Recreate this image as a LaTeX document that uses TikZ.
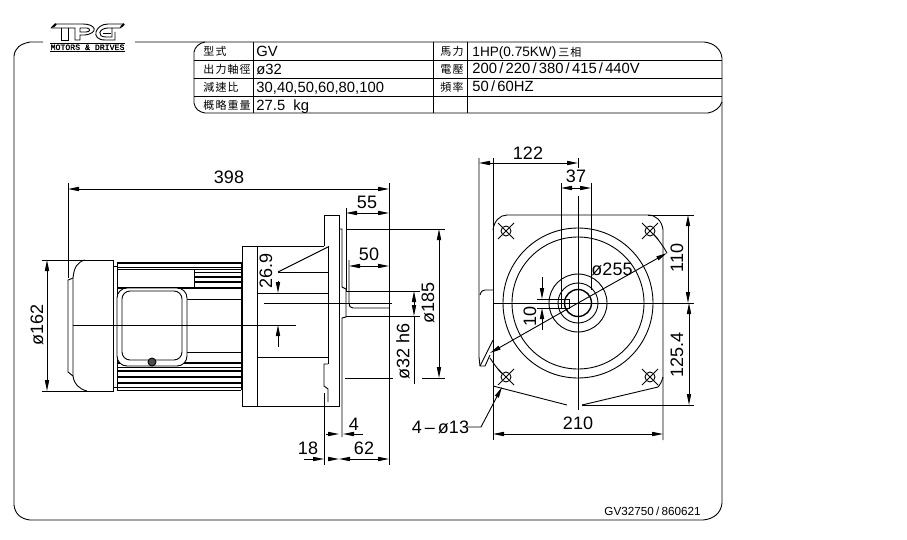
\documentclass[tikz,border=0pt]{standalone}
\usepackage{fontspec}
\setmainfont{Liberation Sans}
\newfontfamily\cjk[LetterSpace=10]{Noto Sans CJK TC}
\newfontfamily\logofont[FakeBold=1.5]{Liberation Mono}
\usetikzlibrary{arrows.meta}
\newcommand{\dslash}{\kern2.2pt/\kern2.2pt}
\tikzset{
    drawing/.style={line width=0.9pt},
    dimline/.style={line width=0.9pt, -{Stealth[inset=0pt, length=11pt, width=4.2pt]}},
    fin/.style={line width=1.8pt},
    dimtext/.style={font=\fontsize{18}{18}\selectfont, inner sep=0pt},
    celltext/.style={font=\fontsize{14.8}{15}\selectfont, inner sep=0pt, anchor=base west},
    celllabel/.style={font=\fontsize{11}{12}\selectfont\cjk, inner sep=0pt, anchor=base west}
}
\begin{document}
\begin{tikzpicture}[x=1pt, y=-1pt, drawing]
    \useasboundingbox (0, 0) rectangle (907, 540);
    % frame
    \draw (43, 42) -- (30, 42) .. controls (20, 44) and (15, 48) .. (14, 56) -- (14, 505) .. controls (15, 514) and (21, 519) .. (30, 520) -- (703, 520) .. controls (714, 519) and (721, 513) .. (722, 503) -- (722, 58) .. controls (721, 49) and (714, 43) .. (704, 42) -- (135, 42);
    % table
    \draw (205, 42) .. controls (199, 43) and (195, 47) .. (194, 52) -- (194, 103) .. controls (195, 109) and (199, 112) .. (205, 113) -- (708, 113) .. controls (714, 112) and (720, 108) .. (722, 102);
    \draw (194, 60) -- (722, 60);
    \draw (194, 78) -- (722, 78);
    \draw (194, 96) -- (722, 96);
    \foreach \tx in {253, 433, 467} {
        \draw (\tx, 42) -- (\tx, 113);
    }
    \node [celllabel] (typelabel) at (203, 56) {型式};
    \node [celllabel] (shaftlabel) at (203, 74) {出力軸徑};
    \node [celllabel] (ratiolabel) at (203, 92) {減速比};
    \node [celllabel] (weightlabel) at (203, 110) {概略重量};
    \node [celllabel] (powerlabel) at (440, 56) {馬力};
    \node [celllabel] (voltlabel) at (440, 74) {電壓};
    \node [celllabel] (freqlabel) at (440, 92) {頻率};
    \node [celltext] (typeval) at (256, 57) {GV};
    \node [celltext] (shaftval) at (256, 75) {ø32};
    \node [celltext] (ratioval) at (256, 93) {30,40,50,60,80,100};
    \node [celltext] (weightval) at (256, 111) {27.5\ \ kg};
    \node [celltext, font=\fontsize{13.6}{15}\selectfont] (powerval) at (472, 57) {1HP(0.75KW)\kern2pt{\fontsize{11}{12}\selectfont\cjk 三相}};
    \node [celltext] (voltval) at (472, 74) {200\dslash 220\dslash 380\dslash 415\dslash 440V};
    \node [celltext] (freqval) at (472, 92) {50\dslash 60HZ};
    \node [font=\fontsize{11.7}{12}\selectfont, inner sep=0pt, anchor=base east] (partno) at (701, 515) {GV32750\dslash 860621};
    % logo
    \draw [line width=2pt] (53, 27) -- (56, 24);
    \draw [line width=2pt] (121, 27) -- (124, 24);
    \draw (51, 28) -- (55, 24) -- (83, 24) .. controls (96, 24) and (99, 33) .. (85, 35) -- (80, 35) -- (80, 40) -- (75, 40) -- (75, 28) -- (51, 28);
    \draw (61, 28) -- (61, 40) -- (68, 40) -- (68, 28);
    \draw (80, 28) -- (87, 28) .. controls (91, 29) and (90, 32) .. (86, 32) -- (80, 32) -- (80, 28);
    \draw (124, 24) -- (108, 24) .. controls (95, 24) and (90, 40) .. (105, 40) -- (115, 40) -- (115, 32);
    \draw (120, 28) -- (108, 28) .. controls (99, 28) and (96, 37) .. (106, 37) -- (112, 37) -- (112, 28);
    \draw (120, 28) -- (124, 24);
    \draw (103, 33) -- (111, 33);
    \draw (50, 43) -- (125, 43);
    \draw (50, 51) -- (125, 51);
    \node [font=\fontsize{8.2}{8}\selectfont\logofont, inner sep=0pt] (logotext) at (87.5, 47.3) {MOTORS \& DRIVES};
    % motor
    \draw (68, 183) -- (68, 278);
    \draw (42, 260) -- (113, 260) -- (113, 391) -- (42, 391);
    \draw (85, 260) .. controls (77, 262) and (74, 268) .. (73, 278) -- (73, 376) .. controls (74, 384) and (79, 389) .. (87, 391);
    \draw (73, 278) .. controls (70, 279) and (69, 280) .. (68, 280) -- (68, 372) -- (73, 376);
    \draw (113, 266) -- (117, 266);
    \draw (113, 387) -- (117, 387);
    \draw (117, 262) -- (117, 390);
    \draw (241, 262) -- (241, 390);
    \draw [fin] (117, 263) -- (241, 263);
    \draw (117, 267) -- (241, 267);
    \draw (117, 269) -- (241, 269);
    \draw (194, 269) -- (194, 288);
    \draw (194, 272) -- (241, 272);
    \draw [fin] (194, 277) -- (241, 277);
    \draw [fin] (194, 282) -- (241, 282);
    \draw [line width=1.2pt] (117, 288) -- (241, 288);
    \draw (187, 299) -- (241, 299);
    \draw (187, 352) -- (241, 352);
    \draw [fin] (117, 363) -- (241, 363);
    \draw (117, 367) -- (241, 367);
    \draw [fin] (117, 371) -- (241, 371);
    \draw [fin] (117, 377) -- (241, 377);
    \draw [fin] (117, 383) -- (241, 383);
    \draw (117, 387) -- (241, 387);
    \draw (117, 390) -- (241, 390);
    \draw [fill=white, rounded corners=10pt] (117, 288) rectangle (187, 366);
    \draw [rounded corners=8pt] (122, 291) rectangle (182, 360);
    \draw [fill=black!70] (152, 362) circle [radius=4];
    % gear box
    \draw (324, 246) -- (242, 246) -- (242, 406) -- (339, 406) -- (339, 215) -- (324, 215) -- (324, 246);
    \draw (257, 246) -- (257, 406);
    \draw (328, 246) -- (328, 364);
    \draw (278, 272) -- (328, 272);
    \draw (257, 293) -- (328, 293);
    \draw (257, 357) -- (328, 357);
    \draw (278, 272) -- (328, 247);
    \draw (328, 364) -- (324, 364) -- (324, 386) -- (328, 389) -- (328, 402);
    \draw (324, 393) -- (324, 465);
    \draw (339, 229) -- (342, 229) -- (342, 287) -- (346, 289) -- (346, 317) -- (342, 318) -- (342, 437);
    % shaft
    \draw (346, 208) -- (346, 292);
    \draw (346, 291) -- (420, 291);
    \draw (346, 316) -- (420, 316);
    \draw (349, 260) -- (349, 303) .. controls (349, 306) and (350, 308) .. (353, 308) -- (389, 308);
    \draw (264, 303) -- (392, 303);
    \draw (73, 325) -- (296, 325);
    % side dims
    \draw (389, 183) -- (389, 465);
    \draw (346, 229) -- (445, 229);
    \draw (345, 378) -- (393, 378);
    \draw (422, 378) -- (445, 378);
    \draw [dimline] (208, 189) -- (68, 189);
    \draw [dimline] (208, 189) -- (389, 189);
    \node [dimtext] (lenlabel) at (229, 177) {398};
    \draw [dimline] (47, 325) -- (47, 260);
    \draw [dimline] (47, 325) -- (47, 391);
    \node [dimtext, rotate=90] (dialabel) at (37, 325) {ø162};
    \draw [dimline] (367, 213) -- (346, 213);
    \draw [dimline] (367, 213) -- (389, 213);
    \node [dimtext] (shaftlen) at (367, 202) {55};
    \draw [dimline] (369, 266) -- (349, 266);
    \draw [dimline] (369, 266) -- (389, 266);
    \node [dimtext] (keylen) at (369, 254) {50};
    \draw [dimline] (278, 281) -- (278, 293);
    \draw [dimline] (278, 347) -- (278, 325);
    \node [dimtext, rotate=90] (offset) at (266, 271) {26.9};
    \draw [dimline] (439, 300) -- (439, 229);
    \draw [dimline] (439, 300) -- (439, 378);
    \node [dimtext, rotate=90] (pcdlabel) at (428, 303) {ø185};
    \draw [dimline] (414, 303.5) -- (414, 291);
    \draw [dimline] (414, 303.5) -- (414, 316);
    \draw (414, 316) -- (414, 384);
    \node [dimtext, rotate=90] (shaftdia) at (403, 351) {ø32\ h6};
    \draw [dimline] (326, 434) -- (339, 434);
    \draw [dimline] (363, 434) -- (343, 434);
    \node [dimtext] (pilot) at (354, 424) {4};
    \draw [dimline] (304, 459) -- (324, 459);
    \draw [dimline] (331, 459) -- (339, 459);
    \draw [dimline] (364, 459) -- (339, 459);
    \draw [dimline] (364, 459) -- (389, 459);
    \node [dimtext] (flangelen) at (308, 448) {18};
    \node [dimtext] (endlen) at (364, 448) {62};
    % end view
    \draw (507, 215) -- (648, 215) .. controls (656, 215) and (662, 221) .. (663, 230) -- (663, 440);
    \draw (493, 158) -- (493, 440);
    \draw (493, 230) .. controls (494, 221) and (500, 215) .. (507, 215);
    \draw (663, 377) .. controls (662, 381) and (660, 385) .. (658, 387) -- (582, 405);
    \draw (493, 386) -- (567, 405);
    \draw (480, 295) .. controls (481, 291) and (483, 290) .. (485, 290) -- (493, 290);
    \draw (479, 158) -- (479, 357) -- (480, 366) -- (485, 366) -- (490, 355);
    \draw (480, 366) -- (493, 340);
    \draw (578, 196) -- (578, 410);
    \draw (493, 303) -- (694, 303);
    \draw (648, 215) -- (694, 215);
    \draw (582, 405) -- (694, 405);
    \foreach \cr in {75, 66, 29, 20} {
        \draw (578, 303) circle [radius=\cr];
    }
    \draw [line width=1.4pt] (578, 303) circle [radius=13.5];
    \draw (561, 299) rectangle (569, 308);
    \draw (537, 299) -- (561, 299);
    \draw (537, 308) -- (561, 308);
    \draw (561, 183) -- (561, 299);
    \draw (591, 183) -- (591, 290);
    \foreach \hx/\hy in {506/231, 650/231, 506/377, 650/377} {
        \draw (\hx, \hy) circle [radius=5];
        \draw (\hx - 8, \hy - 8) -- (\hx + 8, \hy + 8);
        \draw (\hx - 8, \hy + 8) -- (\hx + 8, \hy - 8);
    }
    \draw (667, 253) arc [start angle=-29, end angle=-42, radius=102];
    \draw (490, 358) arc [start angle=148, end angle=137, radius=102];
    \draw [dimline] (528, 163) -- (479, 163);
    \draw [dimline] (528, 163) -- (578, 163);
    \node [dimtext] (widthlabel) at (528, 153) {122};
    \draw (578, 158) -- (578, 168);
    \draw [dimline] (576, 188) -- (561, 188);
    \draw [dimline] (576, 188) -- (591, 188);
    \node [dimtext] (keywidth) at (576, 176) {37};
    \draw [dimline] (578, 303) -- (667, 253);
    \draw [dimline] (578, 303) -- (490, 353);
    \node [dimtext] (boltcircle) at (612, 269) {ø255};
    \draw [dimline] (542, 277) -- (542, 299);
    \draw [dimline] (542, 330) -- (542, 308);
    \node [dimtext, rotate=90] (keyheight) at (530, 316) {10};
    \draw [dimline] (688, 260) -- (688, 215);
    \draw [dimline] (688, 260) -- (688, 303);
    \node [dimtext, rotate=90] (upper) at (677, 258) {110};
    \draw [dimline] (689, 355) -- (689, 303);
    \draw [dimline] (689, 355) -- (689, 405);
    \node [dimtext, rotate=90] (lower) at (677, 355) {125.4};
    \draw [dimline] (578, 434) -- (493, 434);
    \draw [dimline] (578, 434) -- (663, 434);
    \node [dimtext] (basewidth) at (578, 423) {210};
    \node [dimtext] (holelabel) at (440.5, 427) {4\,--\,ø13};
    \draw [dimline] (467, 427) -- (481, 427) -- (502, 387);
\end{tikzpicture}
\end{document}
